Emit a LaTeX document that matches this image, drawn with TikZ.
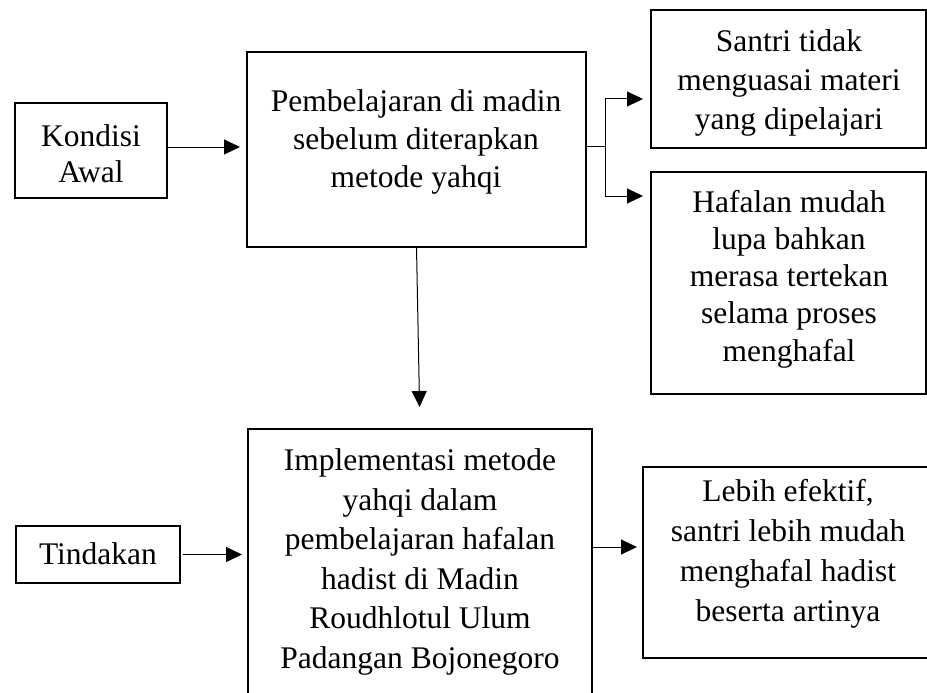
\documentclass[tikz,border=0pt]{standalone}
\usepackage{fontspec}
\setmainfont{Liberation Serif}
\usetikzlibrary{arrows.meta}
\tikzset{
  box/.style={draw, line width=1.9pt, inner sep=0pt, outer sep=0pt, anchor=north west},
  txt/.style={align=center, inner sep=0pt},
  conn/.style={line width=1pt},
  arr/.style={line width=1pt, -{Triangle[length=16pt,width=15pt]}},
}
\newcommand{\fs}[1]{\fontsize{31.5}{#1}\selectfont}
\begin{document}
\begin{tikzpicture}[x=1pt,y=-1pt]
\useasboundingbox (0,0) rectangle (927,693);
\clip (0,0) rectangle (927,693);
% boxes
\node[box, minimum width=152pt, minimum height=95pt] (kondisi) at (15,103) {};
\node[box, minimum width=339pt, minimum height=195pt] (main) at (247,52) {};
\node[box, minimum width=275pt, minimum height=138pt] (santri) at (651,10) {};
\node[box, minimum width=275pt, minimum height=222pt] (hafalan) at (651,172) {};
\node[box, minimum width=164pt, minimum height=57pt] (tindakan) at (16,526) {};
\node[box, minimum width=344pt, minimum height=290pt] (impl) at (248,429) {};
\node[box, minimum width=300pt, minimum height=191pt] (lebih) at (643,467) {};
% texts
\node[txt, font=\fs{36}] (kondisiT) at (91,154) {Kondisi\\Awal};
\node[txt, font=\fs{38}] (mainT) at (416,142) {Pembelajaran di madin\\sebelum diterapkan\\metode yahqi};
\node[txt, font=\fs{39}] (santriT) at (789,83) {Santri tidak\\menguasai materi\\yang dipelajari};
\node[txt, font=\fs{37.2}] (hafalanT) at (789,279) {Hafalan mudah\\lupa bahkan\\merasa tertekan\\selama proses\\menghafal};
\node[txt, font=\fs{36}] (tindakanT) at (98,554) {Tindakan};
\node[txt, font=\fs{39.6}] (implT) at (420,562) {Implementasi metode\\yahqi dalam\\pembelajaran hafalan\\hadist di Madin\\Roudhlotul Ulum\\Padangan Bojonegoro};
\node[txt, font=\fs{40}] (lebihT) at (788,554) {Lebih efektif,\\santri lebih mudah\\menghafal hadist\\beserta artinya};
% connectors
\draw[arr, shorten >=7pt] (kondisi.east |- 0,147) -- (main.west |- 0,147);
\coordinate (br) at (605,146);
\coordinate (b1) at (605,99);
\coordinate (b2) at (605,196);
\draw[conn] (main.east |- br) -- (br);
\draw[conn] (b1) -- (b2);
\draw[arr, shorten >=8pt] (b1) -- (b1 -| santri.west);
\draw[arr, shorten >=8pt] (b2) -- (b2 -| hafalan.west);
\draw[arr, shorten >=22pt] (main.south) -- (impl.north);
\draw[arr, shorten <=3pt, shorten >=6pt] (tindakan.east) -- (tindakan.east -| impl.west);
\draw[arr, shorten >=6pt] (impl.east |- 0,547) -- (lebih.west |- 0,547);
\end{tikzpicture}
\end{document}
